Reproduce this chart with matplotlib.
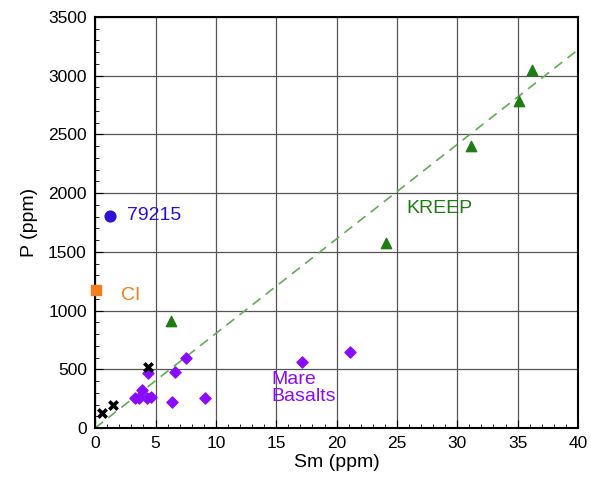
import matplotlib.pyplot as plt
import numpy as np
from matplotlib.ticker import MultipleLocator

plt.rcParams['font.family'] = ['Liberation Sans', 'DejaVu Sans']

# KREEP samples
kreep_sm = [6.3, 24.1, 31.1, 35.1, 36.2]
kreep_p = [915, 1575, 2400, 2785, 3050]

# mare basalts
mare_sm = [4.4, 3.9, 3.3, 3.6, 4.3, 4.6, 6.4, 6.6, 7.5, 9.1, 17.1, 21.1]
mare_p = [465, 325, 258, 255, 255, 260, 224, 480, 600, 258, 560, 650]

# other lunar samples (crosses)
x_sm = [0.6, 1.5, 4.4]
x_p = [125, 196, 517]

sample_79215 = (1.25, 1805)
ci = (0.1, 1175)

# mixing/trend line P = k * Sm
trend_x = [0, 40]
trend_slope = 80.5


def main():
    fig, ax = plt.subplots(figsize=(5.91, 4.82), dpi=100)
    fig.subplots_adjust(left=0.161, right=0.978, bottom=0.112, top=0.965)

    tx = np.array(trend_x)
    ax.plot(tx, trend_slope * tx, '--', color='#5fae52', lw=1.2, dashes=(6, 4), zorder=2)

    ax.scatter(kreep_sm, kreep_p, marker='^', s=55, color='#1e7d12', zorder=3)
    ax.scatter(mare_sm, mare_p, marker='D', s=32, color='#8a0cff', zorder=3)
    ax.scatter(x_sm, x_p, marker='x', s=36, color='black', linewidths=2.6, zorder=4)
    ax.scatter([sample_79215[0]], [sample_79215[1]], marker='o', s=60, color='#2a12d6', zorder=3)
    ax.scatter([ci[0]], [ci[1]], marker='s', s=50, color='#f27e1c', zorder=3, clip_on=False)

    ax.text(2.6, 1805, '79215', color='#2a12d6', fontsize=14, va='center')
    ax.text(2.1, 1130, 'CI', color='#f27e1c', fontsize=14, va='center')
    ax.text(25.8, 1870, 'KREEP', color='#1e7d12', fontsize=14, va='center')
    ax.text(14.6, 340, 'Mare\nBasalts', color='#8a0cff', fontsize=14, va='center',
            linespacing=1.0)

    ax.set_xlim(0, 40)
    ax.set_ylim(0, 3500)
    ax.xaxis.set_major_locator(MultipleLocator(5))
    ax.xaxis.set_minor_locator(MultipleLocator(1))
    ax.yaxis.set_major_locator(MultipleLocator(500))
    ax.yaxis.set_minor_locator(MultipleLocator(100))
    ax.grid(True, which='major', color='#555555', lw=0.9)
    ax.set_axisbelow(True)
    ax.tick_params(which='both', direction='in', labelsize=12.5, top=False, right=False)
    ax.tick_params(which='major', length=6, pad=6)
    ax.tick_params(which='minor', length=3)
    for s in ax.spines.values():
        s.set_linewidth(1.5)

    ax.set_xlabel('Sm (ppm)', fontsize=14, labelpad=2)
    ax.set_ylabel('P (ppm)', fontsize=14, labelpad=7)

    fig.savefig('out.png', dpi=100)


if __name__ == '__main__':
    main()
